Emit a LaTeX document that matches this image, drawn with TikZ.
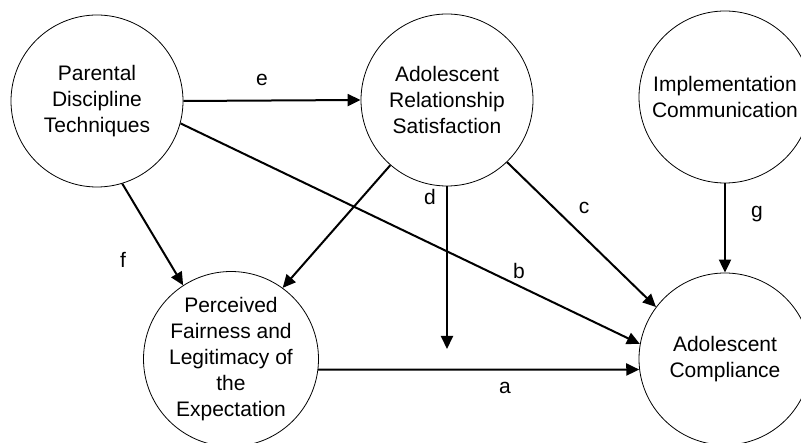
\documentclass[tikz,border=0pt]{standalone}
\usepackage{fontspec}
\setmainfont{Liberation Sans}
\usetikzlibrary{arrows.meta}
\tikzset{
  var/.style={circle, draw, line width=0.8pt, minimum size=172pt, inner sep=0pt,
    align=center, font=\fontsize{21}{26}\selectfont},
  path/.style={line width=2pt, -{Triangle[length=13pt,width=12pt]}},
  lbl/.style={font=\fontsize{21}{26}\selectfont, inner sep=0pt}
}
\begin{document}
\begin{tikzpicture}[x=1pt,y=-1pt]
\useasboundingbox (0,0) rectangle (801,443);
\clip (0,0) rectangle (801,443);
\node[var] (par) at (97,101) {Parental\\Discipline\\Techniques};
\node[var] (rel) at (447,100) {Adolescent\\Relationship\\Satisfaction};
\node[var] (imp) at (725,97) {Implementation\\Communication};
\node[var] (per) at (231,359) {Perceived\\Fairness and\\Legitimacy of\\the\\Expectation};
\node[var] (com) at (725,359) {Adolescent\\Compliance};
\coordinate (dend) at (447,349);
\draw[path] (par.east) -- (rel.west);
\draw[path] (par.-15) -- (com.170);
\draw[path] (par.-73) -- (per.123);
\draw[path] (rel.-131) -- (per.54);
\draw[path] (rel.south) -- (dend);
\draw[path] (rel.-46) -- (com.143);
\draw[path] (imp.south) -- (com.north);
\draw[path] (per.-7) -- (com.187);
\node[lbl] (le) at (262,80) {e};
\node[lbl] (lb) at (519,271) {b};
\node[lbl] (lc) at (584,208) {c};
\node[lbl] (lg) at (757,214) {g};
\node[lbl] (la) at (505,388) {a};
\node[lbl] (ld) at (430,197) {d};
\node[lbl] (lf) at (123,260) {f};
\end{tikzpicture}
\end{document}
